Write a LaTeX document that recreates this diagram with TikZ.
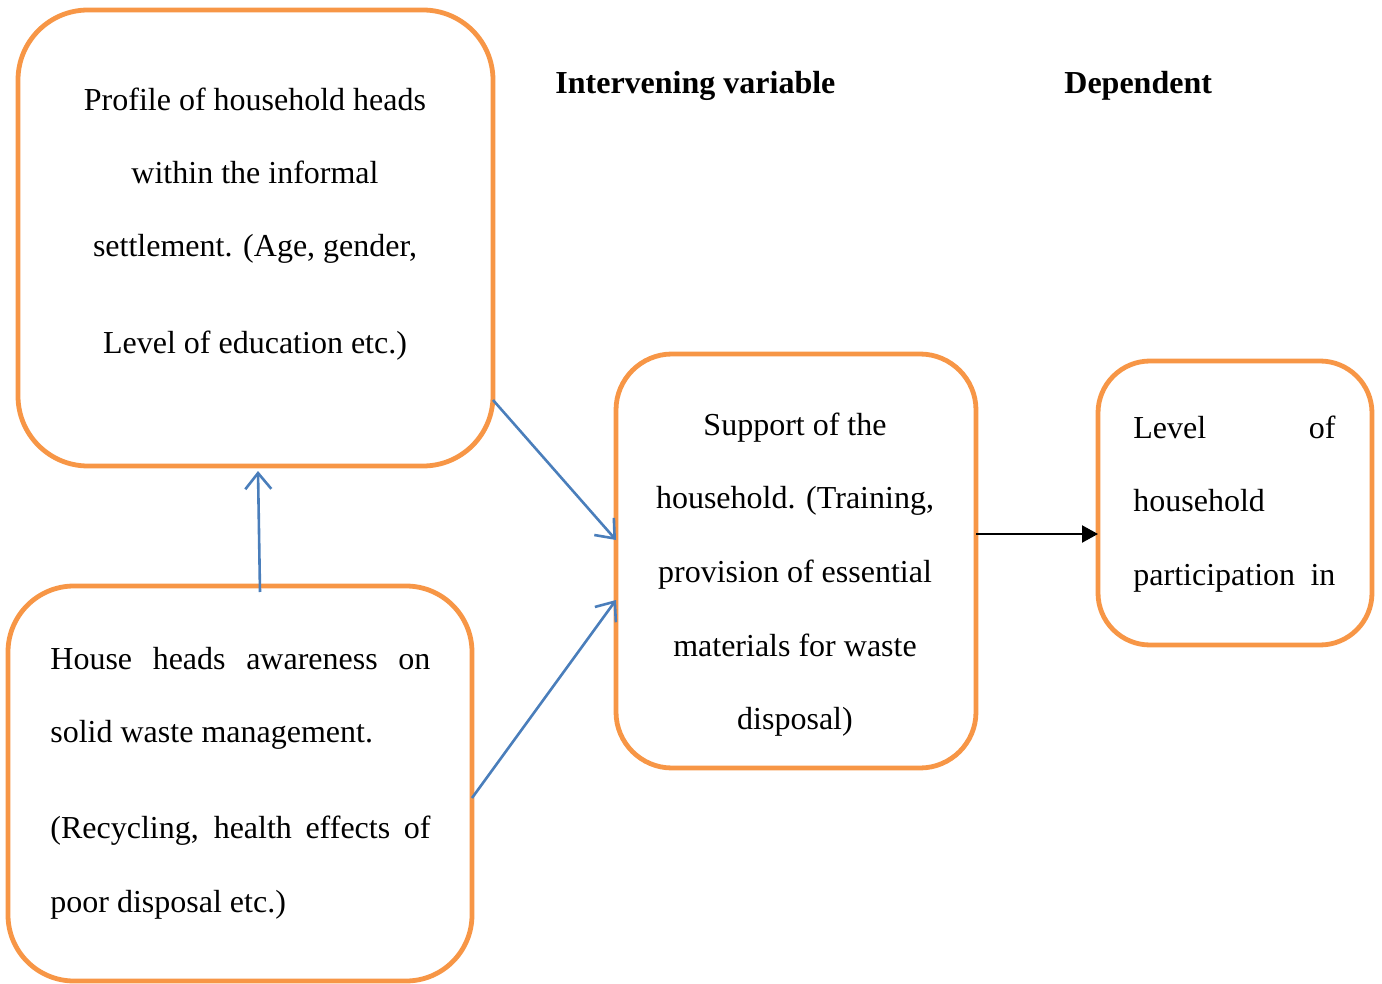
\documentclass[tikz,border=0pt]{standalone}
\usepackage{fontspec}
\setmainfont{Liberation Serif}
\usetikzlibrary{arrows.meta}
\definecolor{boxorange}{HTML}{F79646}
\definecolor{linkblue}{HTML}{4A7EBB}
\begin{document}
\begin{tikzpicture}[x=0.5pt,y=-0.5pt,
  box/.style={draw=boxorange, line width=2.4pt, fill=white, inner sep=0pt, outer sep=0pt},
  txt/.style={anchor=base, inner sep=0pt, font=\fontsize{16pt}{19pt}\selectfont},
  txtl/.style={txt, anchor=base west},
  head/.style={anchor=base west, inner sep=0pt, font=\fontsize{16pt}{19pt}\selectfont\bfseries},
  bluelink/.style={draw=linkblue, line width=1.3pt, -{Straight Barb[length=8pt,width=13pt,line width=1.3pt]}},
  blacklink/.style={draw=black, line width=1.1pt, -{Triangle[length=8pt,width=8.5pt]}}]
\useasboundingbox (0,0) rectangle (1382,984);
% boxes
\node[box, rounded corners=35pt, minimum width=237.5pt, minimum height=228pt] (top) at (255.5,238) {};
\node[box, rounded corners=33pt, minimum width=232pt, minimum height=197.5pt] (bot) at (240,783.5) {};
\node[box, rounded corners=28pt, minimum width=180pt, minimum height=207pt] (mid) at (796,561) {};
\node[box, rounded corners=26pt, minimum width=137pt, minimum height=142pt] (right) at (1235,503) {};
% headers
\node[head] (h1) at (555,94) {Intervening variable};
\node[head] (h2) at (1064,94) {Dependent};
% top box text
\node[txt] (t1) at (255,111) {Profile of household heads};
\node[txt] (t2) at (255,184) {within the informal};
\node[txt] (t3) at (255,257) {settlement. (Age, gender,};
\node[txt] (t4) at (255,353) {Level of education etc.)};
% bottom box text
\node[txtl] (b1) at (50,669) {\makebox[190pt][s]{House heads awareness on}};
\node[txtl] (b2) at (50,742) {solid waste management.};
\node[txtl] (b3) at (50,838) {\makebox[190pt][s]{(Recycling, health effects of}};
\node[txtl] (b4) at (50,912) {poor disposal etc.)};
% middle box text
\node[txt] (m1) at (795,435) {Support of the};
\node[txt] (m2) at (795,508) {household. (Training,};
\node[txt] (m3) at (795,582) {provision of essential};
\node[txt] (m4) at (795,656) {materials for waste};
\node[txt] (m5) at (795,729) {disposal)};
% right box text
\node[txtl] (r1) at (1133,438) {\makebox[101pt][s]{Level of}};
\node[txtl] (r2) at (1133,511) {household};
\node[txtl] (r3) at (1133,585) {\makebox[101pt][s]{participation\ \ in}};
% connectors
\draw[bluelink] ([yshift=-81pt]top.east) -- ([yshift=10.5pt]mid.west);
\draw[bluelink] ([yshift=-7.25pt]bot.east) -- ([yshift=-19.5pt]mid.west);
\draw[bluelink] ([xshift=10pt,yshift=-3pt]bot.north) -- ([xshift=1.25pt,yshift=-2.5pt]top.south);
\draw[blacklink] ([yshift=13.5pt]mid.east) -- ([yshift=13.5pt]mid.east -| right.west);
\end{tikzpicture}
\end{document}
